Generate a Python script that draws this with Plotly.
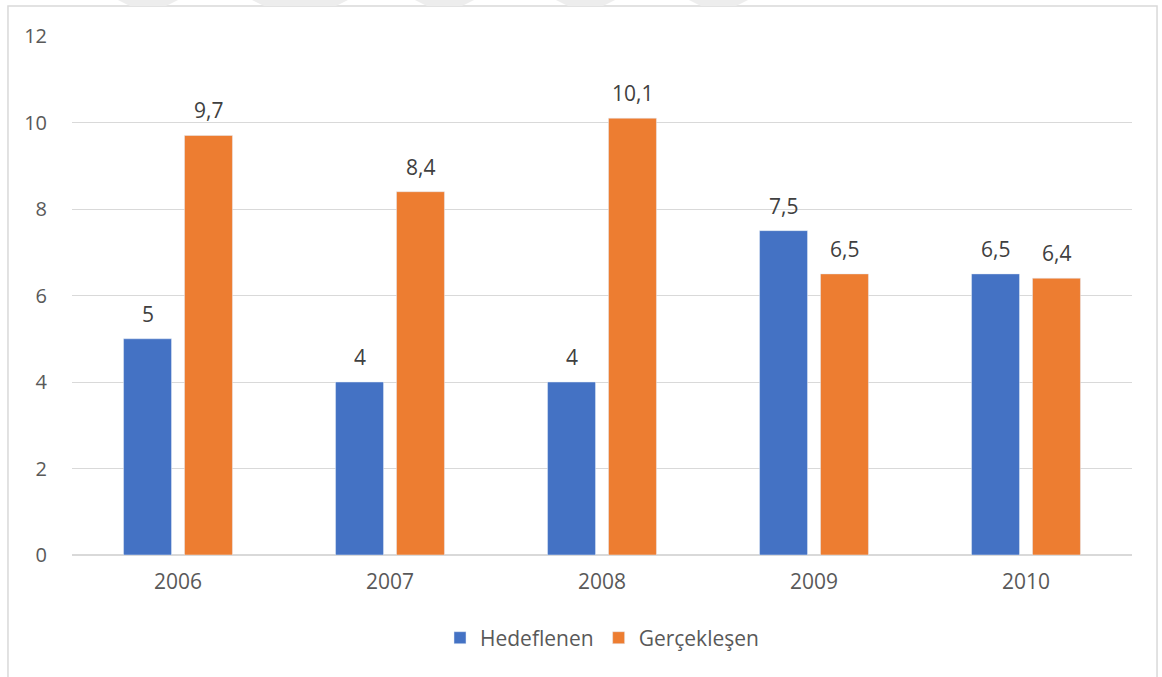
import plotly.graph_objects as go

years = ["2006", "2007", "2008", "2009", "2010"]
hedeflenen = [5, 4, 4, 7.5, 6.5]
gerceklesen = [9.7, 8.4, 10.1, 6.5, 6.4]

font_family = "Open Sans, Noto Sans, sans-serif"

def fmt(v):
    return f"{v:g}".replace(".", ",")

fig = go.Figure()
fig.add_trace(go.Bar(x=years, y=hedeflenen, name="Hedeflenen", marker_color="#4472C4"))
fig.add_trace(go.Bar(x=years, y=gerceklesen, name="Gerçekleşen", marker_color="#ED7D31"))

annotations = []
for series, shift in ((hedeflenen, -30.5), (gerceklesen, 30.5)):
    for i, v in enumerate(series):
        annotations.append(dict(x=i, y=v, xref="x", yref="y", text=fmt(v), showarrow=False,
                                xshift=shift, yshift=9, yanchor="bottom",
                                font=dict(size=21, color="#404040", family=font_family)))

# faint watermark chevrons at very top
wm = [(118, 178), (252, 348), (415, 474), (556, 615), (689, 748)]
shapes = [dict(type="rect", xref="paper", yref="paper", x0=-0.0604, x1=1.0236, y0=-0.245, y1=1.0578,
               line=dict(color="#d9d9d9", width=1.5), fillcolor="rgba(0,0,0,0)", layer="below")]
for a, b in wm:
    x0 = (a - 72) / 1060
    x1 = (b - 72) / 1060
    dx = 12 / 1060
    ytop = (555 - 0) / 519
    ybot = (555 - 6) / 519
    shapes.append(dict(type="path", xref="paper", yref="paper",
                       path=f"M {x0:.5f},{ytop:.5f} L {x1:.5f},{ytop:.5f} L {x1 - dx:.5f},{ybot:.5f} L {x0 + dx:.5f},{ybot:.5f} Z",
                       fillcolor="#ededed", line=dict(width=0), layer="below"))

fig.update_layout(
    width=1162, height=677,
    margin=dict(l=72, r=30, t=36, b=122),
    paper_bgcolor="white", plot_bgcolor="white",
    barmode="group", bargap=0.425, bargroupgap=0.213,
    font=dict(family=font_family, size=21, color="#595959"),
    xaxis=dict(type="category", range=[-0.5, len(years) - 0.5], showgrid=False, showline=False,
               ticks="", ticklabelstandoff=12, tickfont=dict(size=21, color="#595959")),
    yaxis=dict(range=[0, 12], dtick=2, showgrid=True, gridcolor="#d9d9d9", gridwidth=1,
               zeroline=True, zerolinecolor="#d9d9d9", zerolinewidth=1.5,
               ticks="", ticklabelstandoff=24, tickfont=dict(size=20, color="#595959")),
    legend=dict(orientation="h", x=0.5, xanchor="center", y=-0.16, yanchor="middle",
                font=dict(size=21, color="#595959"), itemwidth=30, traceorder="normal"),
    showlegend=True,
    annotations=annotations,
    shapes=shapes,
)

fig.write_html("out.html")
